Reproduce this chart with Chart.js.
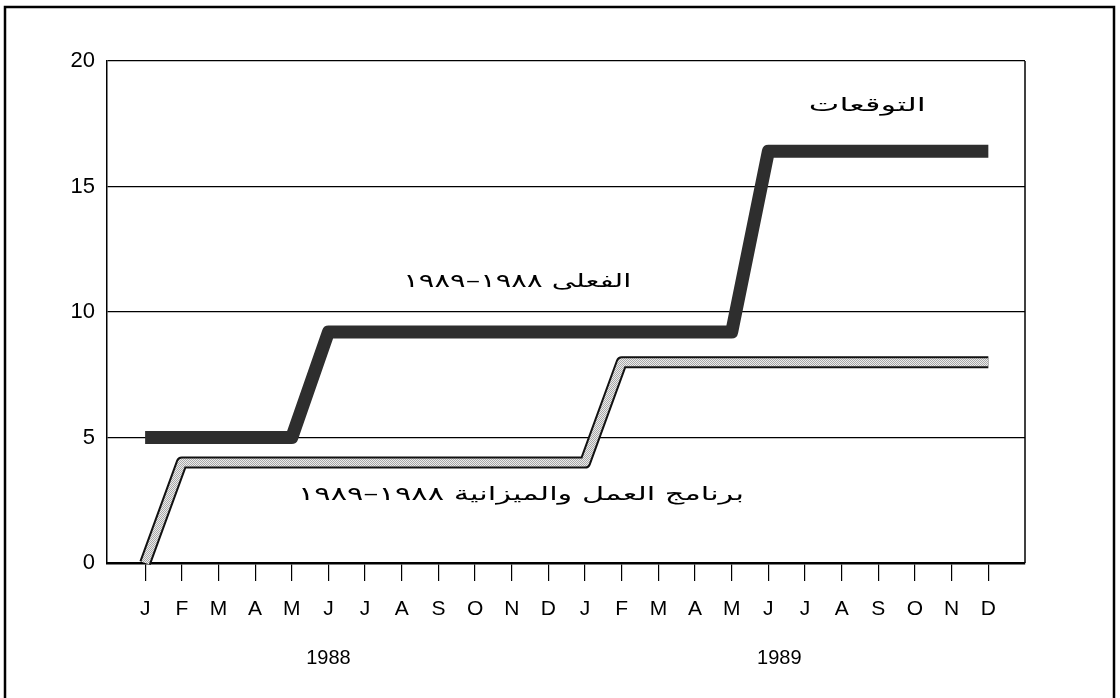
<!DOCTYPE html>
<html>
<head>
<meta charset="utf-8">
<script src="https://cdn.jsdelivr.net/npm/chart.js@4/dist/chart.umd.min.js"></script>
<style>
  html, body { margin: 0; padding: 0; background: #fff; }
  #wrap { width: 1120px; height: 698px; position: relative; }
</style>
</head>
<body>
<div id="wrap"><canvas id="chartPlan"></canvas></div>
<script>
// mesi (asse x), due anni
const monthLabels = ["J","F","M","A","M","J","J","A","S","O","N","D",
                     "J","F","M","A","M","J","J","A","S","O","N","D"];
const yearLabels = ["1988", "1989"];
const yTicks = [0, 5, 10, 15, 20];

// الفعلى / التوقعات
const actualValues = [5, 5, 5, 5, 5, 9.2, 9.2, 9.2, 9.2, 9.2, 9.2, 9.2,
                      9.2, 9.2, 9.2, 9.2, 9.2, 16.4, 16.4, 16.4, 16.4, 16.4, 16.4, 16.4];
// برنامج العمل والميزانية
const budgetValues = [0, 4, 4, 4, 4, 4, 4, 4, 4, 4, 4, 4,
                      4, 8, 8, 8, 8, 8, 8, 8, 8, 8, 8, 8];

const noteTexts = ["التوقعات", "الفعلى ١٩٨٨–١٩٨٩", "برنامج العمل والميزانية ١٩٨٨–١٩٨٩"];
// dove e quanto larghe (in unità del grafico / px)
const noteSpots = [
  { x: 19.7, y: 18.2, w: 117 },
  { x: 10.15, y: 11.2, w: 228 },
  { x: 10.25, y: 2.7, w: 446 }
];

const toXY = arr => arr.map((v, i) => ({ x: i, y: v }));

// retino a scacchiera fine per la linea del budget
function dotPattern() {
  const p = document.createElement("canvas");
  p.width = 2; p.height = 2;
  const g = p.getContext("2d");
  g.fillStyle = "#ececec";
  g.fillRect(0, 0, 2, 2);
  g.fillStyle = "#a8a8a8";
  g.fillRect(0, 0, 1, 1);
  g.fillRect(1, 1, 1, 1);
  return g.createPattern(p, "repeat");
}

const frameAndText = {
  id: "frameAndText",
  beforeDraw(chart) {
    const c = chart.ctx;
    c.save();
    c.fillStyle = "#fff";
    c.fillRect(0, 0, chart.width, chart.height);
    c.strokeStyle = "#000";
    c.lineWidth = 2.5;
    c.beginPath();
    c.moveTo(5, 698); c.lineTo(5, 7); c.lineTo(1114, 7); c.lineTo(1114, 698);
    c.stroke();
    c.restore();
  },
  afterDatasetsDraw(chart) {
    const c = chart.ctx, xs = chart.scales.x, ys = chart.scales.y, a = chart.chartArea;
    c.save();
    // bordo destro del grafico
    c.strokeStyle = "#000";
    c.lineWidth = 1.5;
    c.beginPath();
    c.moveTo(a.right, a.top); c.lineTo(a.right, a.bottom);
    c.stroke();
    // anni sotto i mesi
    c.fillStyle = "#000";
    c.font = "20px 'Liberation Sans', Arial, sans-serif";
    c.textAlign = "center";
    c.textBaseline = "middle";
    c.fillText(yearLabels[0], xs.getPixelForValue(5), 658);
    c.fillText(yearLabels[1], xs.getPixelForValue(17.3), 658);
    // etichette arabe, allargate come nell'originale
    c.direction = "rtl";
    c.font = "19px 'DejaVu Sans', sans-serif";
    noteTexts.forEach((t, i) => {
      const s = noteSpots[i];
      const px = xs.getPixelForValue(s.x), py = ys.getPixelForValue(s.y);
      const k = s.w / c.measureText(t).width;
      c.save();
      c.translate(px, py);
      c.scale(k, 1);
      c.fillText(t, 0, 0);
      c.restore();
    });
    c.restore();
  }
};

new Chart(document.getElementById("chartPlan"), {
  type: "line",
  data: {
    datasets: [
      { label: "budget", data: toXY(budgetValues), borderColor: dotPattern(), borderWidth: 8, order: 0 },
      { label: "budget-edge", data: toXY(budgetValues), borderColor: "#111", borderWidth: 12, order: 1 },
      { label: "actual", data: toXY(actualValues), borderColor: "#2e2e2e", borderWidth: 13, order: 2 }
    ]
  },
  options: {
    responsive: true,
    maintainAspectRatio: false,
    animation: false,
    layout: { padding: { left: 0, top: 61, right: 95, bottom: 0 } },
    elements: {
      point: { radius: 0 },
      line: { tension: 0, borderCapStyle: "butt", borderJoinStyle: "round", fill: false }
    },
    datasets: { line: { clip: false } },
    plugins: { legend: { display: false }, tooltip: { enabled: false } },
    scales: {
      x: {
        type: "linear",
        min: -1.04,
        max: 24.0,
        afterBuildTicks: s => { s.ticks = monthLabels.map((_, i) => ({ value: i })); },
        afterFit: s => { s.height = 135; },
        ticks: {
          autoSkip: false,
          maxRotation: 0,
          padding: 16,
          color: "#000",
          font: { family: "'Liberation Sans', Arial, sans-serif", size: 21 },
          callback: v => monthLabels[v]
        },
        grid: { drawOnChartArea: false, drawTicks: true, tickLength: 18, color: "#000", lineWidth: 1.2 },
        border: { color: "#000", width: 2.5 }
      },
      y: {
        min: 0,
        max: 20,
        afterBuildTicks: s => { s.ticks = yTicks.map(v => ({ value: v })); },
        afterFit: s => { s.width = 107; },
        ticks: {
          padding: 12,
          color: "#000",
          font: { family: "'Liberation Sans', Arial, sans-serif", size: 22 }
        },
        grid: { color: "#000", lineWidth: 1.2, drawTicks: false },
        border: { color: "#000", width: 1.5 }
      }
    }
  },
  plugins: [frameAndText]
});
</script>
</body>
</html>
